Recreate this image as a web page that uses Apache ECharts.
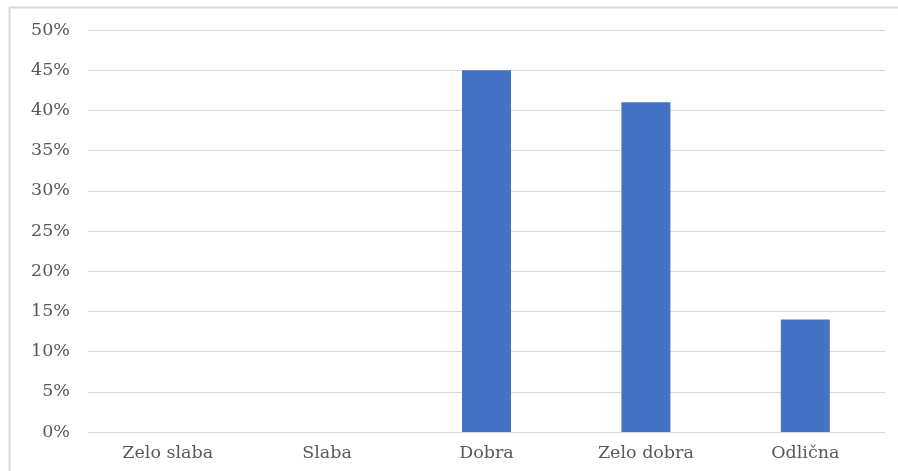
<!DOCTYPE html>
<html><head><meta charset="utf-8">
<script src="https://cdn.jsdelivr.net/npm/echarts@6/dist/echarts.min.js"></script>
<style>html,body{margin:0;padding:0;background:#fff;}#c{width:898px;height:471px;}</style>
</head><body><div id="c"></div>
<script>
const categories = ['Zelo slaba', 'Slaba', 'Dobra', 'Zelo dobra', 'Odlična'];
const values = [0, 0, 45, 41, 14];
const chart = echarts.init(document.getElementById('c'));
const font = '"DejaVu Serif", "Liberation Serif", serif';
chart.setOption({
  animation: false,
  grid: {left: 88, right: 13, top: 30, bottom: 39, containLabel: false},
  graphic: [
    {type: 'line', shape: {x1: 9, y1: 7.5, x2: 898, y2: 7.5}, style: {stroke: '#d9d9d9', lineWidth: 2}},
    {type: 'line', shape: {x1: 9.5, y1: 7, x2: 9.5, y2: 471}, style: {stroke: '#d9d9d9', lineWidth: 2}}
  ],
  xAxis: {
    type: 'category', data: categories,
    axisLine: {show: true, lineStyle: {color: '#d9d9d9', width: 1}},
    axisTick: {show: false},
    axisLabel: {color: '#595959', fontFamily: font, fontSize: 17.5, margin: 12}
  },
  yAxis: {
    type: 'value', min: 0, max: 50, interval: 5,
    axisLine: {show: false}, axisTick: {show: false},
    splitLine: {lineStyle: {color: '#d9d9d9', width: 1}},
    axisLabel: {color: '#595959', fontFamily: font, fontSize: 17.5, margin: 18, formatter: '{value}%'}
  },
  series: [{
    type: 'bar', data: values, barWidth: 49,
    itemStyle: {color: '#4472c4'}
  }]
});
</script></body></html>
